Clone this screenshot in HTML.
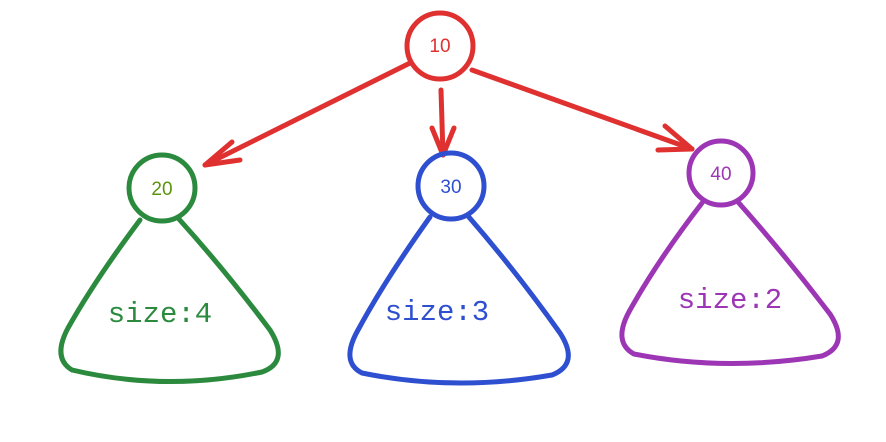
<!DOCTYPE html>
<html><head><meta charset="utf-8"><style>
html,body{margin:0;padding:0;background:#fff;}
svg{display:block}
.lbl{font-family:"Liberation Mono",monospace;font-size:29px}
.num{font-family:"Liberation Sans",sans-serif;font-size:19px}
</style></head><body>
<svg width="886" height="442" viewBox="0 0 886 442" xmlns="http://www.w3.org/2000/svg">
<rect width="886" height="442" fill="#fff"/>
<g fill="none" stroke-linecap="round" stroke-linejoin="round" stroke-width="5">
<circle cx="440" cy="46" r="33" stroke="#e03131"/>
<g stroke="#e03131">
<path d="M410 63 L205 165"/><path d="M205 165 L232 142 M205 165 L240 160"/>
<path d="M441 90 L443 155"/><path d="M443 155 L432 128 M443 155 L454 128"/>
<path d="M472 70 L692 149"/><path d="M692 149 L665 126 M692 149 L658 150"/>
</g>
<circle cx="162" cy="188" r="33" stroke="#2b8a3e"/>
<path d="M140 220 Q95 280 68 328 Q52 358 72 370 Q165 392 262 372 Q290 362 270 330 Q225 270 178 218" stroke="#2b8a3e"/>
<circle cx="451" cy="186" r="33" stroke="#2f4fd1"/>
<path d="M430 217 Q385 280 358 330 Q340 362 362 373 Q455 392 552 375 Q580 364 560 333 Q515 270 468 216" stroke="#2f4fd1"/>
<circle cx="721" cy="173" r="32" stroke="#9c36b5"/>
<path d="M702 203 Q658 260 630 310 Q612 342 634 354 Q725 372 822 356 Q850 345 830 314 Q785 255 738 202" stroke="#9c36b5"/>
</g>
<text x="440" y="52" text-anchor="middle" class="num" fill="#e03131">10</text>
<text x="162" y="195" text-anchor="middle" class="num" fill="#5c940d">20</text>
<text x="451" y="193" text-anchor="middle" class="num" fill="#2f4fd1">30</text>
<text x="721" y="180" text-anchor="middle" class="num" fill="#9c36b5">40</text>
<text x="160" y="322" text-anchor="middle" class="lbl" fill="#2b8a3e">size:4</text>
<text x="437" y="320" text-anchor="middle" class="lbl" fill="#2f4fd1">size:3</text>
<text x="730" y="308" text-anchor="middle" class="lbl" fill="#9c36b5">size:2</text>
</svg>
</body></html>
